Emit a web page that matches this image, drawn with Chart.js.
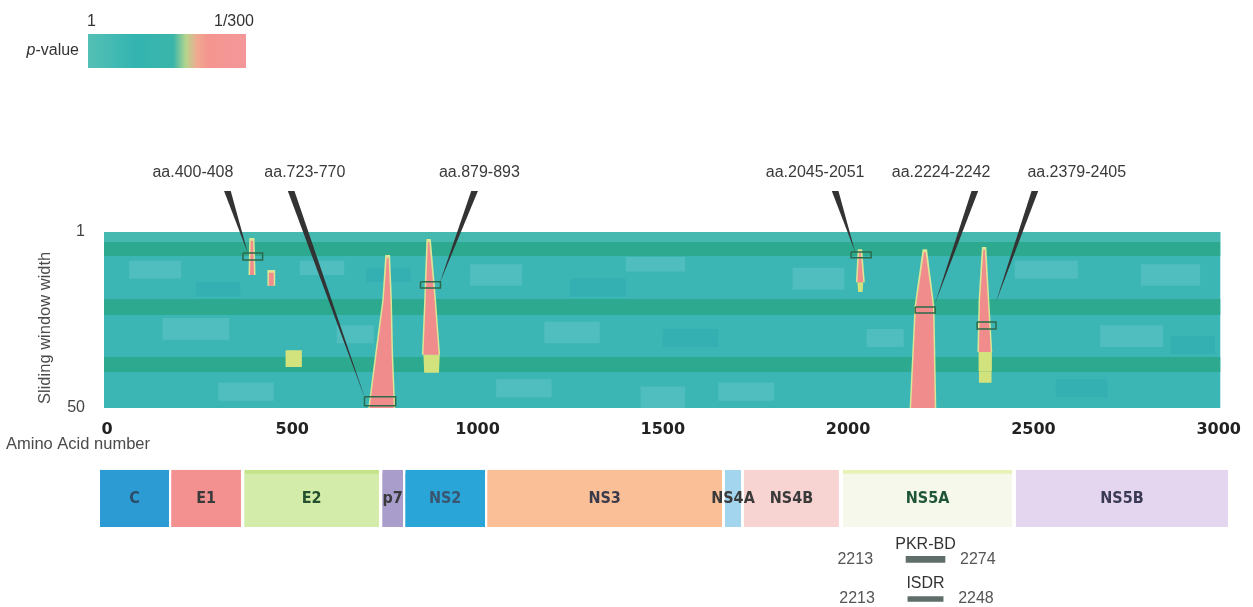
<!DOCTYPE html>
<html>
<head>
<meta charset="utf-8">
<script src="https://cdn.jsdelivr.net/npm/chart.js@4.4.1/dist/chart.umd.min.js"></script>
<style>
  html, body { margin: 0; padding: 0; background: #fff; }
  #wrap { position: relative; width: 1253px; height: 607px; }
  #wrap canvas { position: absolute; left: 0; top: 0; }
</style>
</head>
<body>
<div id="wrap">
  <canvas id="heatmap" width="1253" height="607"></canvas>
  <canvas id="genome" width="1253" height="607"></canvas>
</div>
<script>
// ---- axes
const xTicks = [0, 500, 1000, 1500, 2000, 2500, 3000]
const yTicks = [1, 50]
const aaFirst = -8
const aaLast = 3005
const windowFirst = 1
const windowLast = 50

// ---- heatmap background: darker bands and lighter / darker blotches (aa, window width)
const bandFrom = [3.8, 19.7, 35.8]
const bandTo = [7.7, 24.1, 40.0]

const blotchAA0 = [60, 150, 520, 980, 1180, 1400, 1650, 1850, 2450, 2680, 2790, 300, 1050, 2050, 1440, 620]
const blotchAA1 = [200, 330, 640, 1120, 1330, 1560, 1800, 1990, 2620, 2850, 2950, 450, 1200, 2150, 1560, 720]
const blotchRow0 = [9, 25, 9, 10, 26, 8, 43, 11, 9, 27, 10, 43, 42, 28, 44, 27]
const blotchRow1 = [14, 31, 13, 16, 32, 12, 48, 17, 14, 33, 16, 48, 47, 33, 50, 32]

const shadeAA0 = [240, 1250, 2870, 1500, 2560, 700]
const shadeAA1 = [360, 1400, 2990, 1650, 2700, 820]
const shadeRow0 = [15, 14, 30, 28, 42, 11]
const shadeRow1 = [19, 19, 35, 33, 47, 15]

// ---- significant peaks (aa range per window width)
const peakRows = [[3.5, 13.0], [12.4, 16.0], [8.2, 19.9, 34.7, 50], [3.8, 19.9, 35.2], [6.6, 15.0], [6.6, 21.9, 50], [6.0, 20.0, 34.4]]
const peakLeft = [[388, 386], [437, 437], [755, 747, 728, 709], [866, 860, 854], [2030, 2025], [2205, 2183, 2170], [2365, 2356, 2353]]
const peakRight = [[394, 397], [450, 450], [760, 765, 768, 774], [870, 884, 895], [2034, 2041], [2209, 2229, 2234], [2369, 2377, 2385]]

// weaker (yellow) tails below the peaks
const tailRows = [[33.9, 38.6], [35.2, 40.2], [15.0, 17.7], [34.4, 39.8], [39.8, 43.0]]
const tailLeft = [[482, 482], [854, 856], [2025, 2027], [2352, 2352], [2353, 2353]]
const tailRight = [[526, 526], [898, 896], [2041, 2039], [2388, 2388], [2387, 2387]]

// ---- call-outs
const calloutLabels = ['aa.400-408', 'aa.723-770', 'aa.879-893', 'aa.2045-2051', 'aa.2224-2242', 'aa.2379-2405']
const calloutLabelAA = [232, 534, 1005, 1911, 2251, 2617]
const calloutLabelRow = -15.4
const calloutBaseAA = [325, 497, 992, 1965, 2342, 2504]
const calloutBaseRow = -10.4
const calloutTipAA = [380, 698, 898, 2019, 2235, 2399]
const calloutTipRow = [6.85, 47.8, 15.2, 6.6, 20.8, 20.5]
const boxAA0 = [367, 695, 846, 2008, 2181, 2348]
const boxAA1 = [420, 779, 900, 2062, 2235, 2399]
const boxRow0 = [6.85, 46.9, 14.9, 6.6, 21.9, 26.1]
const boxRow1 = [8.8, 49.4, 16.6, 8.2, 23.6, 28.0]

// ---- HCV polyprotein map
const genes = ['C', 'E1', 'E2', 'p7', 'NS2', 'NS3', 'NS4A', 'NS4B', 'NS5A', 'NS5B']
const geneStart = [-22, 170, 367, 739, 801, 1022, 1663, 1714, 1981, 2447]
const geneEnd = [164, 358, 730, 795, 1016, 1655, 1706, 1970, 2437, 3019]

const domains = ['PKR-BD', 'ISDR']
const domainFrom = [2213, 2213]
const domainTo = [2274, 2248]
const domainBarStart = [2151, 2156]
const domainBarEnd = [2256, 2251]

// ---- styles
const COLORS = {
    teal: '#3cb6b5',
    tealTop: '#45b9b0',
    blotch: '#50bdbe',
    shade: '#35b0b2',
    band: '#2ca98f',
    peak: '#f18c8d',
    glow: '#dbe596',
    tail: '#d2e27c',
    wedge: '#333333',
    box: '#2b6b4b'
}
const geneColors = ['#2c9bd4', '#f2918f', '#d3eca9', '#a89dcb', '#2aa5d8', '#fbbf98', '#a3d5ef', '#f7d3d2', '#f6f8ec', '#e4d6ee']
const geneEdgeColors = ['#2c9bd4', '#f2918f', '#c4e48a', '#a89dcb', '#2aa5d8', '#fbbf98', '#a3d5ef', '#f7d3d2', '#e8f2b6', '#e4d6ee']
const geneTextColors = ['#2d4a66', '#3a3a3a', '#24502e', '#3a3a3a', '#3a5570', '#3a3a4a', '#3a3a3a', '#3a3a3a', '#1f5635', '#3a3a55']
const track = { genome: 2.2, domains: [6.75, 9.7], thickness: [6, 5] }

Chart.defaults.font.family = '"Liberation Sans", Arial, sans-serif'

// ---- helpers turning ranges into polygons (data units)
const rect = (a0, a1, r0, r1) => [{ x: a0, y: r0 }, { x: a1, y: r0 }, { x: a1, y: r1 }, { x: a0, y: r1 }]
const outline = (rows, left, right) => [
    ...rows.map((r, i) => ({ x: left[i], y: r })),
    ...rows.map((r, i) => ({ x: right[i], y: r })).reverse()
]
const shape = (points, color) => ({
    data: points, showLine: true, fill: 'shape', tension: 0,
    backgroundColor: color, borderColor: 'rgba(0,0,0,0)', borderWidth: 0, pointRadius: 0
})
const frame = (points, color) => ({
    data: [...points, points[0]], showLine: true, fill: false, tension: 0,
    borderColor: color, borderWidth: 1.5, pointRadius: 0
})

// layers from bottom to top
const layers = []
layers.push(shape(rect(aaFirst, aaLast, windowFirst, windowLast), COLORS.teal))
layers.push(shape(rect(aaFirst, aaLast, windowFirst, bandFrom[0]), COLORS.tealTop))
blotchAA0.forEach((a, i) => layers.push(shape(rect(a, blotchAA1[i], blotchRow0[i], blotchRow1[i]), COLORS.blotch)))
shadeAA0.forEach((a, i) => layers.push(shape(rect(a, shadeAA1[i], shadeRow0[i], shadeRow1[i]), COLORS.shade)))
bandFrom.forEach((r, i) => layers.push(shape(rect(aaFirst, aaLast, r, bandTo[i]), COLORS.band)))
tailRows.forEach((rows, i) => layers.push(shape(outline(rows, tailLeft[i], tailRight[i]), COLORS.tail)))
peakRows.forEach((rows, i) => layers.push(shape(outline(
    rows.map((r, j) => j === 0 ? r - 0.8 : r),
    peakLeft[i].map(v => v - 4),
    peakRight[i].map(v => v + 4)), COLORS.glow)))
peakRows.forEach((rows, i) => layers.push(shape(outline(rows, peakLeft[i], peakRight[i]), COLORS.peak)))
boxAA0.forEach((a, i) => layers.push(frame(rect(a, boxAA1[i], boxRow0[i], boxRow1[i]), COLORS.box)))
calloutTipAA.forEach((a, i) => layers.push(shape([
    { x: calloutBaseAA[i] - 9, y: calloutBaseRow },
    { x: calloutBaseAA[i] + 9, y: calloutBaseRow },
    { x: a, y: calloutTipRow[i] }
], COLORS.wedge)))

const heatmapDatasets = layers.map((d, i) => ({ ...d, order: layers.length - i }))

// free text of the heatmap panel
const heatmapText = {
    id: 'heatmapText',
    afterDatasetsDraw(chart) {
        const { ctx, scales: { x, y } } = chart
        ctx.save()
        ctx.fillStyle = '#3a3a3a'
        ctx.font = '16px "Liberation Sans", Arial, sans-serif'
        ctx.textAlign = 'center'
        ctx.textBaseline = 'middle'
        calloutLabels.forEach((t, i) => {
            ctx.fillText(t, x.getPixelForValue(calloutLabelAA[i]), y.getPixelForValue(calloutLabelRow))
        })

        // axis titles
        ctx.fillStyle = '#4a4a4a'
        ctx.font = '16.5px "Liberation Sans", Arial, sans-serif'
        ctx.textAlign = 'left'
        ctx.fillText('Amino Acid number', 6, 444)
        ctx.save()
        ctx.translate(45, y.getPixelForValue(27.7))
        ctx.rotate(-Math.PI / 2)
        ctx.textAlign = 'center'
        ctx.fillText('Sliding window width', 0, 0)
        ctx.restore()

        // p-value colour key
        const grad = ctx.createLinearGradient(88, 0, 246, 0)
        grad.addColorStop(0, '#55c0b5')
        grad.addColorStop(0.3, '#33b4b1')
        grad.addColorStop(0.54, '#3bb5aa')
        grad.addColorStop(0.62, '#b5d58c')
        grad.addColorStop(0.69, '#f0a990')
        grad.addColorStop(0.76, '#f4958f')
        grad.addColorStop(1, '#f4979a')
        ctx.fillStyle = grad
        ctx.fillRect(88, 34, 158, 34)

        ctx.fillStyle = '#333'
        ctx.font = '16px "Liberation Sans", Arial, sans-serif'
        ctx.textAlign = 'left'
        ctx.fillText('1', 87, 22)
        ctx.textAlign = 'center'
        ctx.fillText('1/300', 234, 22)
        ctx.textAlign = 'right'
        ctx.fillText('-value', 79, 51)
        const w = ctx.measureText('-value').width
        ctx.font = 'italic 16px "Liberation Sans", Arial, sans-serif'
        ctx.fillText('p', 79 - w, 51)
        ctx.restore()
    }
}

new Chart(document.getElementById('heatmap'), {
    type: 'scatter',
    data: { datasets: heatmapDatasets },
    options: {
        responsive: false,
        animation: false,
        events: [],
        layout: { autoPadding: false, padding: { top: 160, right: 30, left: 0, bottom: 0 } },
        scales: {
            x: {
                type: 'linear',
                min: aaFirst,
                max: aaLast,
                grid: { display: false, drawTicks: false },
                border: { display: false },
                afterBuildTicks: s => { s.ticks = xTicks.map(v => ({ value: v })) },
                afterFit: s => { s.height = 199 },
                ticks: {
                    font: { family: '"DejaVu Sans", sans-serif', size: 16, weight: 'bold' },
                    color: '#222',
                    padding: 12,
                    maxRotation: 0,
                    autoSkip: false,
                    callback: v => String(v)
                }
            },
            y: {
                type: 'linear',
                min: -19,
                max: windowLast,
                reverse: true,
                grid: { display: false, drawTicks: false },
                border: { display: false },
                afterBuildTicks: s => { s.ticks = yTicks.map(v => ({ value: v })) },
                afterFit: s => { s.width = 104 },
                ticks: { font: { size: 16 }, color: '#444', padding: 19 }
            }
        },
        plugins: { legend: { display: false }, tooltip: { enabled: false } }
    },
    plugins: [heatmapText]
})

// free text of the genome map
const genomeText = {
    id: 'genomeText',
    afterDatasetsDraw(chart) {
        const { ctx, scales: { x, y } } = chart
        ctx.save()
        ctx.textAlign = 'center'
        ctx.textBaseline = 'middle'
        ctx.font = 'bold 16px "DejaVu Sans Condensed", "DejaVu Sans", sans-serif'
        genes.forEach((g, i) => {
            ctx.fillStyle = geneTextColors[i]
            ctx.fillText(g, x.getPixelForValue((geneStart[i] + geneEnd[i]) / 2), y.getPixelForValue(track.genome))
        })

        domains.forEach((d, i) => {
            const yy = y.getPixelForValue(track.domains[i])
            const x0 = x.getPixelForValue(domainBarStart[i])
            const x1 = x.getPixelForValue(domainBarEnd[i])
            ctx.font = '16px "Liberation Sans", Arial, sans-serif'
            ctx.fillStyle = '#333'
            ctx.textAlign = 'center'
            ctx.fillText(d, (x0 + x1) / 2, yy - 15)
            ctx.fillStyle = '#555'
            ctx.textAlign = 'right'
            ctx.fillText(String(domainFrom[i]), x0 - 33, yy)
            ctx.textAlign = 'left'
            ctx.fillText(String(domainTo[i]), x1 + 15, yy)
        })
        ctx.restore()
    }
}

new Chart(document.getElementById('genome'), {
    type: 'bar',
    data: {
        datasets: [
            {
                label: 'genome',
                data: genes.map((g, i) => ({ x: [geneStart[i], geneEnd[i]], y: track.genome })),
                backgroundColor: geneColors,
                borderColor: geneEdgeColors,
                borderWidth: { top: 4, right: 0, bottom: 0, left: 0 },
                borderSkipped: false,
                barThickness: 57
            },
            ...domains.map((d, i) => ({
                label: d,
                data: [{ x: [domainBarStart[i], domainBarEnd[i]], y: track.domains[i] }],
                backgroundColor: '#5f6d6b',
                barThickness: track.thickness[i]
            }))
        ]
    },
    options: {
        indexAxis: 'y',
        responsive: false,
        animation: false,
        events: [],
        layout: { autoPadding: false, padding: { left: 100, right: 25, top: 469, bottom: 4 } },
        datasets: { bar: { grouped: false } },
        scales: {
            x: { type: 'linear', min: -22, max: 3019, display: false },
            y: { type: 'linear', min: 0, max: 10, reverse: true, offset: false, display: false }
        },
        plugins: { legend: { display: false }, tooltip: { enabled: false } }
    },
    plugins: [genomeText]
})
</script>
</body>
</html>
